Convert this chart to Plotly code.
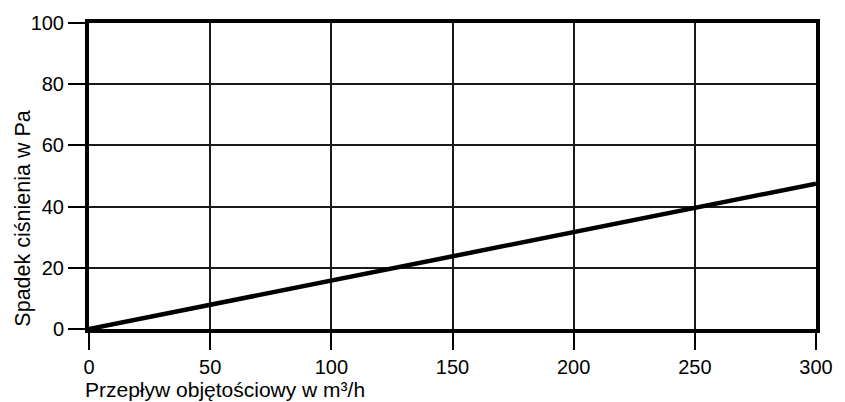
import plotly.graph_objects as go

# Pressure drop vs. volumetric flow
flow_m3h = [0, 300]
pressure_pa = [0, 47.5]

x_ticks = [0, 50, 100, 150, 200, 250, 300]
y_ticks = [0, 20, 40, 60, 80, 100]

FONT = "Liberation Sans, Arial, sans-serif"
W, H = 845, 402
L, R, T, B = 89, 22, 21, 73
pw = W - L - R
ph = H - T - B

fig = go.Figure()
fig.add_trace(go.Scatter(
    x=flow_m3h, y=pressure_pa, mode="lines",
    line=dict(color="black", width=4.5),
    showlegend=False, hoverinfo="skip",
))

axis_common = dict(
    showgrid=True, gridcolor="#1a1a1a", gridwidth=1.5,
    showline=True, linecolor="black", linewidth=4, mirror=True,
    ticks="outside", ticklen=17, tickwidth=1.5, tickcolor="black",
    tickfont=dict(family=FONT, size=20, color="black"),
    zeroline=False,
)

fig.update_xaxes(range=[0, 300], tickvals=x_ticks, **axis_common)
fig.update_yaxes(range=[0, 100], tickvals=y_ticks, **axis_common)

# Axis titles anchored at the origin corner
fig.add_annotation(
    text="Przepływ objętościowy w m³/h",
    xref="paper", yref="paper",
    x=(83 - L) / pw, y=-(390 - (T + ph)) / ph,
    xanchor="left", yanchor="middle", showarrow=False,
    font=dict(family=FONT, size=21, color="black"),
)
fig.add_annotation(
    text="Spadek ciśnienia w Pa",
    xref="paper", yref="paper",
    x=(22 - L) / pw, y=0,
    xanchor="center", yanchor="bottom", textangle=-90, showarrow=False,
    font=dict(family=FONT, size=21.5, color="black"),
)

fig.update_layout(
    width=W, height=H,
    margin=dict(l=L, r=R, t=T, b=B),
    paper_bgcolor="white", plot_bgcolor="white",
)

fig.write_html("out.html")
